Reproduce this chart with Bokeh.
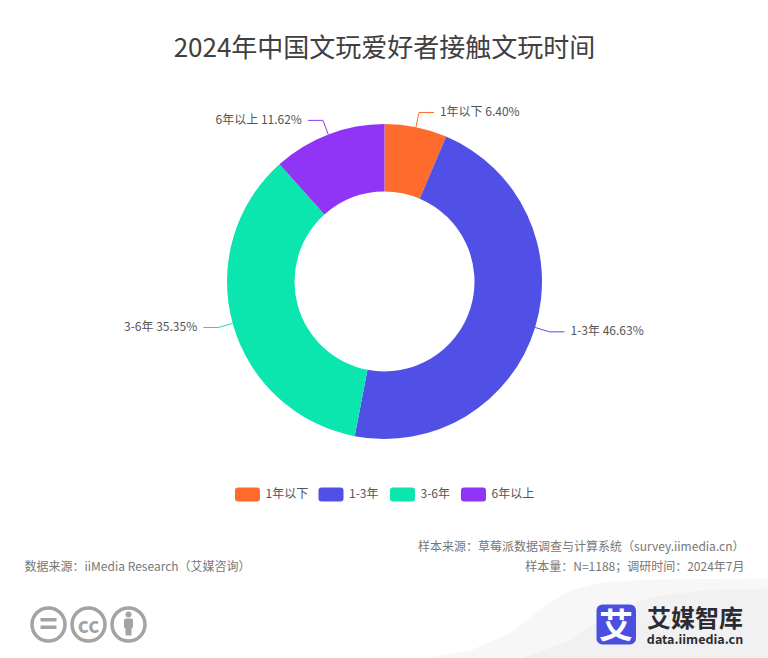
import math
from bokeh.plotting import figure
from bokeh.models import Range1d
from bokeh.core.properties import value
from bokeh.embed import file_html
from bokeh.resources import INLINE

TITLE = "2024年中国文玩爱好者接触文玩时间"
categories = ["1年以下", "1-3年", "3-6年", "6年以上"]
values = [6.40, 46.63, 35.35, 11.62]
colors = ["#FF6B2C", "#5050E6", "#0BE5AE", "#9035F5"]
source_left = "数据来源：iiMedia Research（艾媒咨询）"
source_right = ["样本来源：草莓派数据调查与计算系统（survey.iimedia.cn）", "样本量：N=1188；调研时间：2024年7月"]

FONT = "'Noto Sans CJK SC', sans-serif"
W, H = 768, 658
def Y(v):
    return H - v

p = figure(width=W, height=H, output_backend="svg", toolbar_location=None,
           x_range=Range1d(0, W), y_range=Range1d(0, H), min_border=0)
p.axis.visible = False
p.grid.visible = False
p.outline_line_color = None
p.background_fill_color = "white"
p.border_fill_color = "white"

def txt(x, y, s, size=12, color="#555555", align="left", style="normal"):
    p.text([x], [Y(y)], text=[s], text_font=value(FONT), text_font_size=f"{size}px", text_color=color,
           text_align=align, text_baseline="middle", text_font_style=style)

# corner swoosh
sw = [(425, 658), (470, 650), (510, 632), (545, 605), (570, 590), (600, 582), (650, 579), (768, 578), (768, 658)]
p.patch([a for a, b in sw], [Y(b) for a, b in sw], fill_color="#f7f7f7", line_color=None)
sw2 = [(520, 658), (570, 640), (610, 612), (650, 597), (700, 590), (768, 588), (768, 658)]
p.patch([a for a, b in sw2], [Y(b) for a, b in sw2], fill_color="#f1f1f1", line_color=None)

txt(384, 44.5, TITLE, size=26, color="#404040", align="center")

# donut
CX, CY, R0, R1 = 384, 281, 90, 157.5
total = sum(values)
cum = 0
for cat, v, c in zip(categories, values, colors):
    a0 = cum / total * 2 * math.pi
    cum += v
    a1 = cum / total * 2 * math.pi
    p.annular_wedge([CX], [Y(CY)], inner_radius=R0, outer_radius=R1,
                    start_angle=math.pi / 2 - a0, end_angle=math.pi / 2 - a1, direction="clock",
                    fill_color=c, line_color=None)
    m = (a0 + a1) / 2
    sx, cy = math.sin(m), math.cos(m)
    side = 1 if sx >= 0 else -1
    x1, y1 = CX + R1 * sx, CY - R1 * cy
    x2, y2 = CX + (R1 + 15) * sx, CY - (R1 + 15) * cy
    x3 = x2 + side * 15
    p.line([x1, x2, x3], [Y(y1), Y(y2), Y(y2)], line_color=c, line_width=1)
    txt(x3 + side * 6, y2 - 2, f"{cat} {v:.2f}%", size=12, color="#555555", align="left" if side > 0 else "right")

# legend
legend_x = [234.5, 318, 389.5, 460.5]
for cat, c, lx in zip(categories, colors, legend_x):
    p.quad(left=[lx], right=[lx + 25], top=[Y(487)], bottom=[Y(501)], fill_color=c, line_color=None, border_radius=3)
    txt(lx + 30.5, 492, cat, size=12, color="#555555")

# footers
txt(24, 564.5, source_left, size=12, color="#777777")
txt(744, 545, source_right[0], size=12, color="#777777", align="right")
txt(744, 564.5, source_right[1], size=12, color="#777777", align="right")

# cc icons
GR = "#a3a3a3"
p.circle([48, 88, 128], [Y(624)] * 3, radius=16.5, fill_color="white", line_color=GR, line_width=3.5)
p.quad(left=[40, 40], right=[56, 56], top=[Y(617.5), Y(625)], bottom=[Y(621), Y(628.5)], fill_color=GR, line_color=None)
txt(88, 623.5, "cc", size=21, color=GR, align="center", style="bold")
p.circle([128], [Y(614)], radius=3, fill_color=GR, line_color=None)
p.quad(left=[123.5], right=[132.5], top=[Y(618)], bottom=[Y(628)], fill_color=GR, line_color=None, border_radius=2)
p.quad(left=[125], right=[131], top=[Y(627)], bottom=[Y(635)], fill_color=GR, line_color=None)

# logo
p.quad(left=[596], right=[635.5], top=[Y(604)], bottom=[Y(644)], fill_color="#4A4FE0", line_color=None, border_radius=6)
txt(615.5, 623, "艾", size=34, color="white", align="center", style="bold")
txt(694.5, 616, "艾媒智库", size=24, color="#2b2b33", align="center", style="bold")
txt(694.5, 637.5, "data.iimedia.cn", size=12.5, color="#2b2b33", align="center", style="bold")

open("out.html", "w").write(file_html(p, INLINE))
